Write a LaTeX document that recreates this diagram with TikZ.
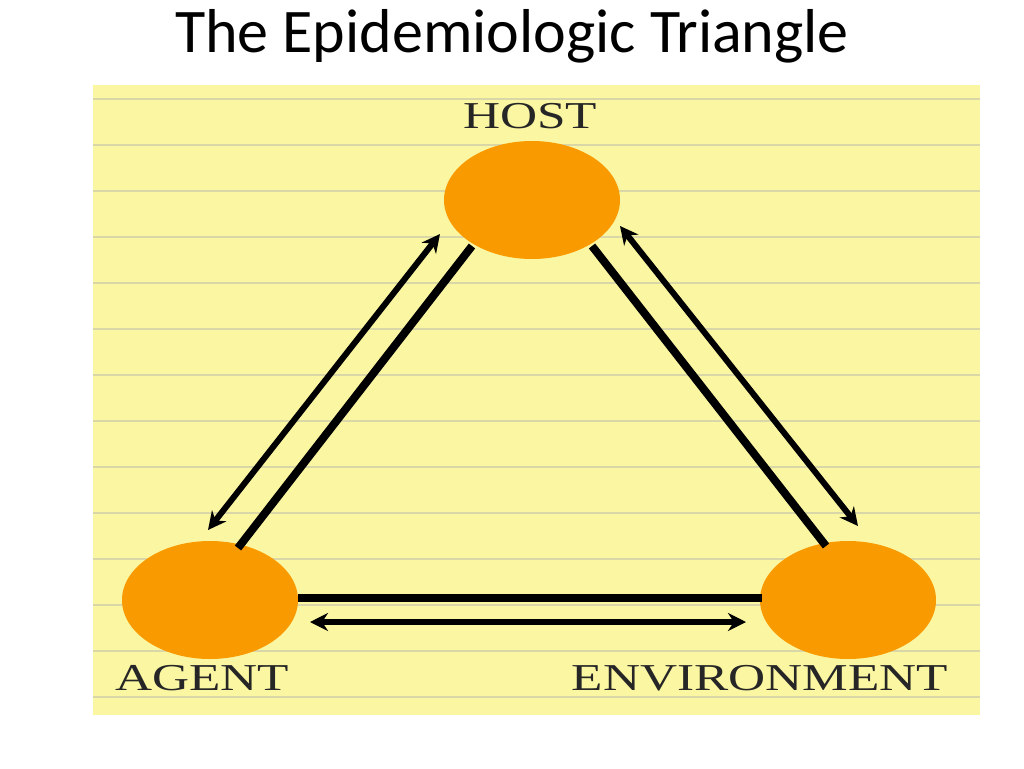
\documentclass[tikz,border=0pt]{standalone}
\usepackage{fontspec}
\usetikzlibrary{shapes.geometric,arrows.meta}
\setmainfont{Liberation Serif}
\newfontfamily\titlefont{Carlito}
\definecolor{paper}{HTML}{FBF6A2}
\definecolor{rule}{HTML}{D9D6A8}
\definecolor{orb}{HTML}{F99B00}
\begin{document}
\begin{tikzpicture}[x=1pt,y=-1pt,
  orbnode/.style={ellipse,fill=orb,minimum width=176pt,minimum height=118pt,inner sep=0pt},
  lbl/.style={font=\fontsize{38}{38}\selectfont,xscale=1.35,text=black!85},
  plain/.style={line width=8pt},
  dbl/.style={line width=6pt,{Stealth[length=18pt,width=18pt]}-{Stealth[length=18pt,width=18pt]}}]
\useasboundingbox (0,0) rectangle (1024,768);
\fill[white] (0,0) rectangle (1024,768);
\node[font=\titlefont\fontsize{62}{62}\selectfont] (title) at (512,36) {The Epidemiologic Triangle};
\fill[paper] (93,85) rectangle (980,715);
\foreach \y in {99,145,...,700} \draw[rule,line width=2.5pt] (93,\y) -- (980,\y);
\node[orbnode] (host) at (532,200) {};
\node[orbnode] (agent) at (210,600) {};
\node[orbnode] (env) at (848,600) {};
\node[lbl] (hl) at (530,116) {HOST};
\node[lbl] (al) at (202,678) {AGENT};
\node[lbl] (el) at (760,678) {ENVIRONMENT};
\coordinate (a1) at (472,246); \coordinate (a2) at (238,548);
\coordinate (b1) at (440,234); \coordinate (b2) at (208,530);
\coordinate (c1) at (592,246); \coordinate (c2) at (826,546);
\coordinate (d1) at (620,226); \coordinate (d2) at (858,526);
\coordinate (e1) at (298,598); \coordinate (e2) at (762,598);
\coordinate (f1) at (310,622); \coordinate (f2) at (746,622);
\draw[plain] (a1) -- (a2);
\draw[dbl] (b1) -- (b2);
\draw[plain] (c1) -- (c2);
\draw[dbl] (d1) -- (d2);
\draw[plain] (e1) -- (e2);
\draw[dbl] (f1) -- (f2);
\end{tikzpicture}
\end{document}
